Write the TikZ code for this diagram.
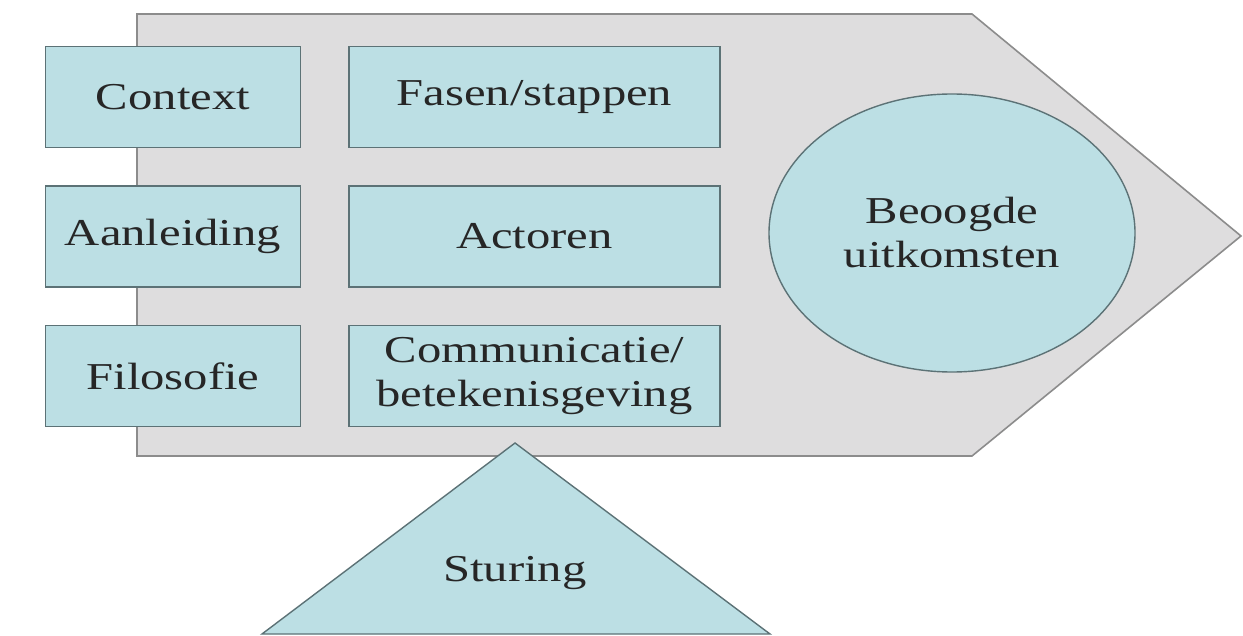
\documentclass[tikz,border=0pt]{standalone}
\usepackage{fontspec}
\setmainfont{Liberation Serif}[FakeStretch=1.28]
\usetikzlibrary{shapes.geometric}
\definecolor{boxfill}{HTML}{BCDFE4}
\definecolor{boxline}{HTML}{5C7276}
\definecolor{arrowfill}{HTML}{DEDDDE}
\definecolor{arrowline}{HTML}{8C8C8C}
\definecolor{txt}{HTML}{262626}
\begin{document}
\begin{tikzpicture}[x=1pt,y=-1pt,
  every node/.style={text=txt,font=\fontsize{38}{44}\selectfont},
  boxnode/.style={draw=boxline,fill=boxfill,line width=1.6pt,rectangle,minimum height=101pt,inner sep=0pt,align=center},
  leftbox/.style={boxnode,minimum width=255pt},
  midbox/.style={boxnode,minimum width=371pt},
  ovalnode/.style={draw=boxline,fill=boxfill,line width=1.4pt,ellipse,minimum width=366pt,minimum height=278pt,inner sep=0pt,align=center},
  bigarrow/.style={fill=arrowfill,draw=arrowline,line width=1.6pt,line join=miter},
  tri/.style={fill=boxfill,draw=boxline,line width=1.4pt,line join=miter}]
\useasboundingbox[fill=white] (0,0) rectangle (1243,636);
% big arrow background
\draw[bigarrow] (137,14) -- (972,14) -- (1241,236) -- (972,456) -- (137,456) -- cycle;
% left column
\node[leftbox] (context) at (173,97) {Context};
\node[leftbox] (aanleiding) at (173,236.5) {Aanleiding};
\node[leftbox] (filosofie) at (173,376) {Filosofie};
% middle column
\node[midbox] (fasen) at (534.5,97) {Fasen/stappen};
\node[midbox] (actoren) at (534.5,236.5) {Actoren};
\node[midbox] (communicatie) at (534.5,376) {Communicatie/\\betekenisgeving};
% oval
\node[ovalnode] (uitkomsten) at (952,233) {Beoogde\\uitkomsten};
% triangle
\draw[tri] (515,443) -- (770,634) -- (262,634) -- cycle;
\node (sturing) at (515,573) {Sturing};
\end{tikzpicture}
\end{document}
